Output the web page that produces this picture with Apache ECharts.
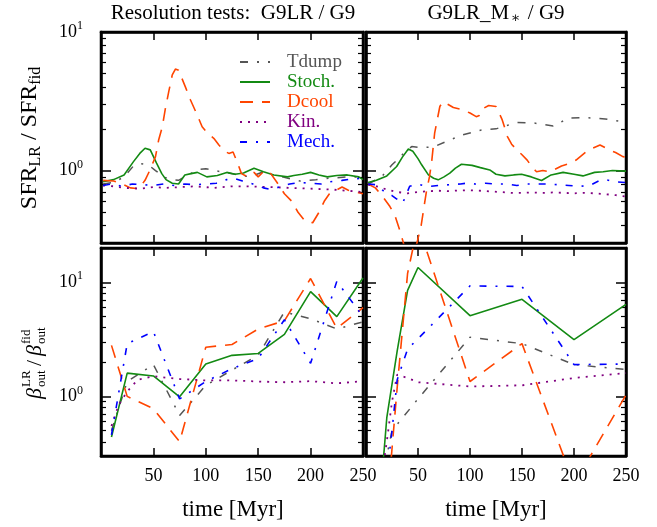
<!DOCTYPE html>
<html>
<head>
<meta charset="utf-8">
<title>Resolution tests</title>
<script src="https://cdn.jsdelivr.net/npm/echarts@6.0.0/dist/echarts.min.js"></script>
<style>
  html, body { margin: 0; padding: 0; background: #fff; }
  #wrap { position: relative; width: 657px; height: 527px; background: #fff; }
  .panel { position: absolute; left: 0; top: 0; width: 657px; height: 527px; }
</style>
</head>
<body>
<div id="wrap">
  <div class="panel" id="p0"></div>
  <div class="panel" id="p1"></div>
  <div class="panel" id="p2"></div>
  <div class="panel" id="p3"></div>
</div>
<script>
const FONT = "'Liberation Serif', 'DejaVu Serif', serif"

// runs, in legend order
const runs = ['Tdump', 'Stoch.', 'Dcool', 'Kin.', 'Mech.']

// time axis (Myr)
const timeRange = [0, 250]
const timeStep = 50

// log axes: limits, decades (labelled) and minor ticks
const sfrRange = [0.3, 10]
const betaRange = [0.3, 20]
const decades = [1, 10]
const minorTicks = [0.4, 0.5, 0.6, 0.7, 0.8, 0.9, 2, 3, 4, 5, 6, 7, 8, 9]

// SFR ratio, G9LR / G9  ([time, ratio])
const sfrTdumpLR = [[2,0.8],[12,0.82],[22,0.9],[31,1.08],[38,1.12],[45,1.1],[52,1.0],[60,0.9],[66,0.86],[74,0.85],[82,0.92],[93,1.02],[100,1.03],[108,1.0],[118,0.97],[128,0.94],[142,0.9],[155,0.98],[165,0.92],[173,0.9],[190,0.84],[205,0.86],[218,0.88],[235,0.9],[250,0.9]]
const sfrStochLR = [[2,0.83],[12,0.86],[22,0.93],[31,1.16],[37,1.33],[42,1.45],[47,1.41],[53,1.13],[58,0.95],[62,0.86],[68,0.81],[74,0.8],[80,0.93],[86,0.95],[92,0.97],[101,0.9],[111,0.92],[120,0.97],[128,0.94],[136,0.96],[146,1.04],[155,0.98],[165,0.93],[178,0.9],[184,0.92],[192,0.94],[200,0.97],[208,0.93],[216,0.9],[225,0.92],[235,0.93],[246,0.9],[250,0.86]]
const sfrDcoolLR = [[2,0.85],[12,0.84],[20,0.8],[28,0.75],[36,0.74],[42,0.85],[46.5,1.0],[52,1.26],[55,1.66],[58.5,2.07],[61.5,2.82],[64.6,3.7],[68,4.9],[71,5.4],[74,5.3],[80.6,4.0],[85.4,3.23],[91.8,2.52],[96.5,2.07],[102,1.85],[107.6,1.71],[112.5,1.53],[118,1.38],[122,1.33],[126,1.36],[130,1.15],[134,0.95],[140,0.9],[146,0.97],[150,0.9],[156,1.0],[162,0.95],[168,0.82],[175,0.68],[182,0.6],[188,0.5],[195,0.43],[202,0.42],[208,0.5],[213,0.6],[218,0.68],[224,0.72],[230,0.76],[236,0.72],[243,0.7],[250,0.68]]
const sfrKinLR = [[2,0.78],[12,0.77],[22,0.75],[38,0.74],[50,0.76],[62,0.75],[76,0.76],[90,0.77],[108,0.75],[125,0.77],[140,0.77],[160,0.76],[180,0.75],[200,0.74],[220,0.73],[240,0.71],[250,0.7]]
const sfrMechLR = [[2,0.78],[10,0.8],[20,0.77],[30,0.8],[40,0.79],[50,0.78],[60,0.8],[70,0.78],[80,0.8],[90,0.79],[100,0.8],[110,0.81],[120,0.86],[127,0.88],[135,0.84],[145,0.8],[155,0.75],[162,0.73],[170,0.76],[180,0.8],[190,0.82],[200,0.81],[210,0.8],[218,0.83],[230,0.85],[240,0.87],[250,0.88]]

// SFR ratio, G9LR_M* / G9
const sfrTdumpMs = [[2,0.8],[15,0.9],[25,1.1],[31,1.21],[38,1.38],[44,1.49],[51,1.47],[58,1.47],[65,1.48],[77,1.62],[93,1.81],[111,1.96],[125,2.0],[132,2.08],[145,2.22],[162,2.2],[180,2.1],[195,2.39],[212,2.41],[230,2.36],[247,2.25],[250,2.2]]
const sfrStochMs = [[2,0.82],[10,0.85],[20,0.915],[29.5,1.07],[35,1.25],[40.7,1.43],[45,1.38],[50,1.22],[53.5,1.1],[60,0.93],[65,0.88],[69.4,0.857],[75,0.9],[80.6,0.957],[86,1.04],[91.8,1.11],[102,1.09],[110,1.05],[119,1.01],[125,0.94],[133.6,0.915],[142,0.93],[149.6,0.94],[159,0.9],[168.8,0.847],[178,0.93],[189.5,0.97],[200,0.94],[208.6,0.915],[219.8,0.97],[228,0.98],[237,1.0],[250,0.99]]
const sfrDcoolMs = [[2,0.8],[9,0.75],[16,0.65],[23,0.55],[28,0.47],[33,0.36],[36,0.3],[40,0.22],[45,0.22],[48,0.28],[53,0.4],[55,0.5],[58,0.7],[61,0.9],[63,1.13],[66,1.86],[71,2.9],[74,3.14],[79,3.0],[84,2.85],[93,2.75],[100,2.6],[106,2.45],[109,2.5],[112.5,2.8],[118,2.95],[125,2.9],[128,2.6],[131,2.32],[136,1.76],[140,1.55],[145,1.41],[150,1.3],[155,1.19],[160,1.05],[164,0.98],[170,1.0],[177,0.98],[188,1.08],[195,1.12],[202,1.19],[212,1.37],[218,1.45],[225,1.53],[234,1.41],[240,1.35],[247,1.26],[250,1.25]]
const sfrKinMs = [[2,0.79],[10,0.77],[20,0.73],[30,0.7],[40,0.685],[50,0.7],[60,0.71],[70,0.715],[80,0.71],[90,0.72],[100,0.72],[110,0.715],[121,0.705],[130,0.7],[140,0.69],[150,0.69],[160,0.695],[170,0.69],[180,0.695],[190,0.69],[200,0.685],[210,0.69],[220,0.685],[230,0.675],[240,0.665],[250,0.65]]
const sfrMechMs = [[2,0.8],[10,0.79],[18,0.7],[25,0.66],[30,0.62],[33,0.58],[36,0.6],[42,0.77],[50,0.8],[55,0.78],[62,0.77],[70,0.78],[80,0.79],[91,0.8],[96,0.81],[105,0.8],[115,0.81],[125,0.8],[135,0.8],[145,0.78],[155,0.8],[165,0.8],[175,0.8],[185,0.79],[195,0.78],[205,0.77],[215,0.78],[225,0.85],[230,0.86],[240,0.83],[250,0.82]]

// mass loading ratio, G9LR / G9
const betaTdumpLR = [[10,0.5],[25,1.35],[50,1.9],[75,0.68],[100,1.25],[125,1.7],[150,2.3],[175,5.5],[200,4.8],[225,3.9],[250,4.5]]
const betaStochLR = [[10,0.44],[25,1.6],[50,1.51],[75,0.99],[100,1.92],[125,2.29],[150,2.38],[175,3.5],[200,8.3],[225,5.0],[250,10.9]]
const betaDcoolLR = [[10,2.8],[25,1.0],[50,0.78],[75,0.4],[100,2.7],[125,2.85],[150,3.9],[175,4.6],[200,10.8],[225,3.95],[250,6.0]]
const betaKinLR = [[10,0.55],[17,0.85],[25,1.1],[35,1.4],[50,1.5],[75,1.42],[100,1.38],[125,1.38],[150,1.35],[175,1.33],[200,1.36],[225,1.3],[250,1.36]]
const betaMechLR = [[10,0.46],[25,2.9],[50,3.7],[75,0.95],[100,1.35],[125,1.75],[150,2.15],[175,4.7],[200,1.95],[225,10.2],[250,5.0]]

// mass loading ratio, G9LR_M* / G9
const betaTdumpMs = [[10,0.08],[20,0.3],[25,0.5],[50,0.95],[100,3.3],[150,2.9],[200,1.9],[250,1.72]]
const betaStochMs = [[10,0.05],[20,0.65],[30,2.5],[40,8.5],[50,13.5],[100,5.1],[150,7.1],[200,3.15],[250,6.4]]
const betaDcoolMs = [[10,0.05],[20,0.1],[30,1.2],[40,12],[50,32],[100,1.35],[150,2.9],[200,0.17],[250,1.03]]
const betaKinMs = [[10,0.1],[20,0.4],[25,0.9],[30,1.55],[40,1.45],[50,1.33],[100,1.22],[150,1.25],[200,1.45],[250,1.6]]
const betaMechMs = [[10,0.05],[20,0.2],[25,0.5],[30,1.4],[40,2.6],[50,3.2],[100,9.3],[150,9.2],[200,1.9],[250,1.92]]

// panel order: top-left, top-right, bottom-left, bottom-right
const panelData = [
  [sfrTdumpLR, sfrStochLR, sfrDcoolLR, sfrKinLR, sfrMechLR],
  [sfrTdumpMs, sfrStochMs, sfrDcoolMs, sfrKinMs, sfrMechMs],
  [betaTdumpLR, betaStochLR, betaDcoolLR, betaKinLR, betaMechLR],
  [betaTdumpMs, betaStochMs, betaDcoolMs, betaKinMs, betaMechMs],
]

// line look of each run
const runStyle = {
  'Tdump': { color: '#555555', type: [8, 9, 2, 9], width: 1.5 },
  'Stoch.': { color: '#138a13', type: 'solid', width: 1.6 },
  'Dcool': { color: '#ff4500', type: [13, 9], width: 1.6 },
  'Kin.': { color: '#800080', type: [2, 6], width: 1.8 },
  'Mech.': { color: '#0000ff', type: [7, 9, 2, 9], width: 1.6 },
}

// one grid per chart instance, all stacked on the same page area
const grids = [
  { left: 101, top: 32, width: 262, height: 211 },
  { left: 366, top: 32, width: 260, height: 211 },
  { left: 101, top: 248, width: 262, height: 208 },
  { left: 366, top: 248, width: 260, height: 208 },
]

function timeAxis(pos, labelled) {
  return {
    type: 'value',
    gridIndex: 0,
    position: pos,
    min: timeRange[0],
    max: timeRange[1],
    interval: timeStep,
    axisLine: { show: true, onZero: false, lineStyle: { color: '#000', width: 2.5 } },
    splitLine: { show: false },
    axisTick: { show: true, inside: true, length: 8, lineStyle: { color: '#000', width: 1.5 } },
    axisLabel: {
      show: labelled,
      margin: 11,
      fontSize: 18,
      fontFamily: FONT,
      color: '#000',
      formatter: (v) => (v === 0 ? '' : String(v)),
    },
  }
}

function ratioAxis(pos, range, labelled) {
  return {
    type: 'log',
    gridIndex: 0,
    position: pos,
    min: range[0],
    max: range[1],
    axisLine: { show: true, onZero: false, lineStyle: { color: '#000', width: 2.5 } },
    splitLine: { show: false },
    axisTick: { show: true, inside: true, length: 10, customValues: decades, lineStyle: { color: '#000', width: 1.5 } },
    axisLabel: {
      show: labelled,
      customValues: decades,
      margin: 18,
      formatter: (v) => '{b|10}{e|' + Math.round(Math.log10(v)) + '}',
      rich: {
        b: { fontSize: 18, fontFamily: FONT, color: '#000' },
        e: { fontSize: 12, fontFamily: FONT, color: '#000', padding: [0, 0, 12, 0] },
      },
    },
  }
}

function minorAxis(pos, range) {
  return {
    type: 'log',
    gridIndex: 0,
    position: pos,
    min: range[0],
    max: range[1],
    axisLine: { show: false, onZero: false },
    splitLine: { show: false },
    axisTick: { show: true, inside: true, length: 5, customValues: minorTicks, lineStyle: { color: '#000', width: 1.2 } },
    axisLabel: { show: false },
  }
}

function panelOption(g) {
  const bottomRow = g >= 2
  const range = bottomRow ? betaRange : sfrRange
  const leftCol = g % 2 === 0
  return {
    animation: false,
    grid: [{ ...grids[g], show: true, borderColor: '#000', borderWidth: 2.5 }],
    xAxis: [timeAxis('bottom', bottomRow), timeAxis('top', false)],
    yAxis: [ratioAxis('left', range, leftCol), minorAxis('left', range), ratioAxis('right', range, false), minorAxis('right', range)],
    series: panelData[g].map((data, i) => {
      const name = runs[i]
      const st = runStyle[name]
      return {
        name,
        type: 'line',
        xAxisIndex: 0,
        yAxisIndex: 0,
        data,
        symbol: 'none',
        clip: true,
        itemStyle: { color: st.color },
        lineStyle: { color: st.color, type: st.type, width: st.width },
      }
    }),
  }
}

// titles and axis names
const texts = [
  {
    type: 'text', x: 233, y: 13,
    style: { text: 'Resolution tests:  G9LR / G9', fontSize: 21, fontFamily: FONT, fill: '#000', align: 'center', verticalAlign: 'middle' },
  },
  {
    type: 'text', x: 496, y: 13,
    style: {
      text: 'G9LR_M{s|∗} / G9', fontSize: 21, fontFamily: FONT, fill: '#000', align: 'center', verticalAlign: 'middle',
      rich: { s: { fontSize: 14, fontFamily: FONT, fill: '#000', padding: [10, 2, 0, 2] } },
    },
  },
  {
    type: 'text', x: 30, y: 138, rotation: Math.PI / 2,
    style: {
      text: 'SFR{s|LR} / SFR{s|fid}', fontSize: 24, fontFamily: FONT, fill: '#000', align: 'center', verticalAlign: 'middle',
      rich: { s: { fontSize: 16, fontFamily: FONT, fill: '#000', padding: [12, 0, 0, 0] } },
    },
  },
  {
    // beta_out^LR / beta_out^fid, stacked scripts
    type: 'group', x: 35, y: 360, rotation: Math.PI / 2,
    children: [
      { type: 'text', x: -39, y: 0, style: { text: 'β', fontSize: 22, fontStyle: 'italic', fontFamily: FONT, fill: '#000', verticalAlign: 'middle' } },
      { type: 'text', x: -27, y: -8, style: { text: 'LR', fontSize: 13, fontFamily: FONT, fill: '#000', verticalAlign: 'middle' } },
      { type: 'text', x: -27, y: 7, style: { text: 'out', fontSize: 13, fontFamily: FONT, fill: '#000', verticalAlign: 'middle' } },
      { type: 'text', x: -6, y: 0, style: { text: '/', fontSize: 22, fontFamily: FONT, fill: '#000', verticalAlign: 'middle' } },
      { type: 'text', x: 4, y: 0, style: { text: 'β', fontSize: 22, fontStyle: 'italic', fontFamily: FONT, fill: '#000', verticalAlign: 'middle' } },
      { type: 'text', x: 16, y: -8, style: { text: 'fid', fontSize: 13, fontFamily: FONT, fill: '#000', verticalAlign: 'middle' } },
      { type: 'text', x: 16, y: 7, style: { text: 'out', fontSize: 13, fontFamily: FONT, fill: '#000', verticalAlign: 'middle' } },
    ],
  },
  {
    type: 'text', x: 233, y: 510,
    style: { text: 'time [Myr]', fontSize: 23, fontFamily: FONT, fill: '#000', align: 'center', verticalAlign: 'middle' },
  },
  {
    type: 'text', x: 496, y: 510,
    style: { text: 'time [Myr]', fontSize: 23, fontFamily: FONT, fill: '#000', align: 'center', verticalAlign: 'middle' },
  },
]

const charts = grids.map((_g, g) => echarts.init(document.getElementById('p' + g)))

charts.forEach((chart, g) => {
  const option = panelOption(g)
  if (g === 0) {
    option.legend = {
      orient: 'vertical',
      left: 234,
      top: 47,
      itemWidth: 30,
      itemHeight: 10,
      itemGap: 0,
      selectedMode: false,
      // line only, no marker
      itemStyle: { opacity: 0 },
      textStyle: { fontFamily: FONT, fontSize: 19, lineHeight: 20, padding: [0, 0, 0, 12] },
      data: runs.map((name) => ({ name, textStyle: { color: runStyle[name].color } })),
    }
    option.graphic = texts
  }
  chart.setOption(option)
})
</script>
</body>
</html>
